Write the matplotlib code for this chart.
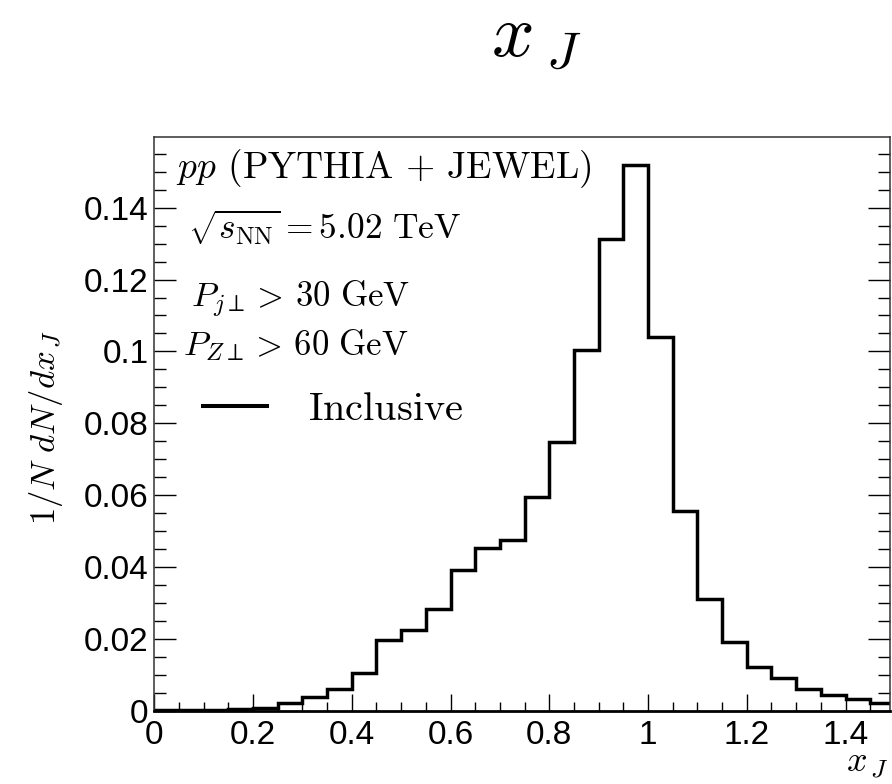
import numpy as np
import matplotlib
matplotlib.use("Agg")
import matplotlib.pyplot as plt
from matplotlib.lines import Line2D
from matplotlib.ticker import FixedLocator, FixedFormatter, MultipleLocator

plt.rcParams['mathtext.fontset'] = 'cm'
plt.rcParams['font.family'] = ['Liberation Sans', 'DejaVu Sans']
plt.rcParams['axes.unicode_minus'] = False

# ---- data ----
bin_edges = np.round(np.arange(0, 1.5001, 0.05), 2)
xj_values = [0.0001, 0.0001, 0.0002, 0.0004, 0.0008, 0.0021, 0.0037, 0.0060,
             0.0104, 0.0197, 0.0224, 0.0283, 0.0393, 0.0452, 0.0475, 0.0594,
             0.0747, 0.1003, 0.1314, 0.1520, 0.1039, 0.0556, 0.0310, 0.0192,
             0.0122, 0.0092, 0.0060, 0.0044, 0.0033, 0.0022]
x_ticks = [0, 0.2, 0.4, 0.6, 0.8, 1.0, 1.2, 1.4]
x_tick_labels = ["0", "0.2", "0.4", "0.6", "0.8", "1", "1.2", "1.4"]
y_ticks = [0, 0.02, 0.04, 0.06, 0.08, 0.10, 0.12, 0.14]
y_tick_labels = ["0", "0.02", "0.04", "0.06", "0.08", "0.1", "0.12", "0.14"]
series_label = "Inclusive"

W, H = 892, 784
fig = plt.figure(figsize=(W / 100, H / 100), dpi=100)
ax = fig.add_axes([154.3 / W, 1 - 710.7 / H, (889.5 - 154.3) / W, (710.7 - 137.3) / H])

ax.stairs(xj_values, bin_edges, baseline=None, color='black', lw=2.5)

ax.set_xlim(0, 1.489)
ax.set_ylim(0, 1.05 * max(xj_values))

ax.xaxis.set_major_locator(FixedLocator(x_ticks))
ax.xaxis.set_major_formatter(FixedFormatter(x_tick_labels))
ax.xaxis.set_minor_locator(MultipleLocator(0.05))
ax.yaxis.set_major_locator(FixedLocator(y_ticks))
ax.yaxis.set_major_formatter(FixedFormatter(y_tick_labels))
ax.yaxis.set_minor_locator(MultipleLocator(0.005))

ax.tick_params(axis='both', which='both', direction='in', color='black')
ax.tick_params(axis='y', which='major', length=15.5, width=1.0, right=True, left=True, pad=4, labelsize=24)
ax.tick_params(axis='y', which='minor', length=8.5, width=1.0, right=True, left=True)
ax.tick_params(axis='x', which='major', length=12.2, width=1.0, top=False, pad=7, labelsize=24)
ax.tick_params(axis='x', which='minor', length=6.5, width=1.0, top=False)

for s in ['left', 'right', 'top']:
    ax.spines[s].set_linewidth(1.1)
    ax.spines[s].set_color('#333333')
ax.spines['bottom'].set_linewidth(2.0)

# texts
fig.text(536.5 / W, 1 - 56 / H, r"$x_{\;J}$", fontsize=54, ha='center', va='baseline')
fig.text(46 / W, 1 - 428 / H, r"$1/N\ dN/dx_{\,J}$", fontsize=25, rotation=90,
         ha='center', va='center')
fig.text(888 / W, 1 - 772 / H, r"$x_{\,J}$", fontsize=26, ha='right', va='baseline')

fig.text(176 / W, 1 - 178.3 / H, r"$pp$ (PYTHIA + JEWEL)", fontsize=27,
         family='cmr10', ha='left', va='baseline')
fig.text(188 / W, 1 - 239 / H, r"$\sqrt{s_{\mathrm{NN}}} = 5.02\ \mathrm{TeV}$", fontsize=25.5,
         ha='left', va='baseline')
fig.text(191 / W, 1 - 306.7 / H, r"$P_{j\perp} >\, 30\ \mathrm{GeV}$", fontsize=25,
         ha='left', va='baseline')
fig.text(183 / W, 1 - 355.5 / H, r"$P_{Z\perp} >\, 60\ \mathrm{GeV}$", fontsize=25,
         ha='left', va='baseline')

handle = Line2D([], [], color='black', lw=2.9)
leg = ax.legend([handle], [r"$\mathrm{" + series_label + "}$"], loc='center left',
                bbox_to_anchor=(203 / W, 1 - 409 / H), bbox_transform=fig.transFigure,
                frameon=False, fontsize=29, handlelength=1.6, handletextpad=1.0,
                borderpad=0, borderaxespad=0)

fig.savefig("out.png", dpi=100)
